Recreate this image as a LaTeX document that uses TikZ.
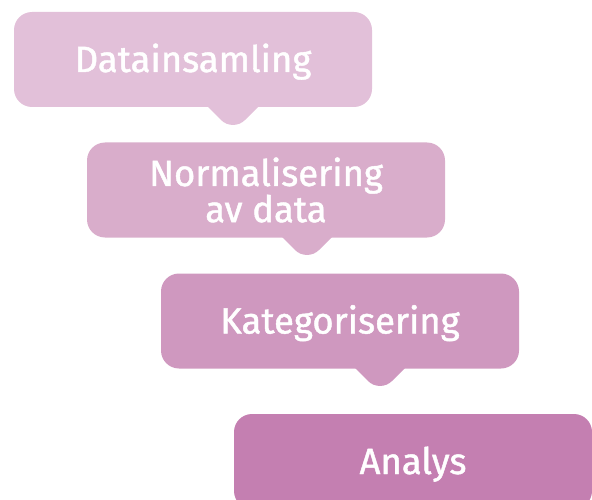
\documentclass[tikz,border=0pt]{standalone}
\usepackage{fontspec}
\setsansfont{Fira Sans}
\newfontfamily\bubblefont{Fira Sans}[RawFeature={embolden=1.2}]
\renewcommand{\familydefault}{\sfdefault}
\definecolor{stepA}{HTML}{E2C0D9}
\definecolor{stepB}{HTML}{D9ADCB}
\definecolor{stepC}{HTML}{CF98BF}
\definecolor{stepD}{HTML}{C47FB1}
\begin{document}
\begin{tikzpicture}[x=1pt,y=-1pt]
					\useasboundingbox (0,0) rectangle (592,500);
					\tikzstyle{bubble}=[rounded corners=18pt, minimum width=358pt, minimum height=95pt, inner sep=0pt, text=white, font=\bubblefont\fontsize{36.5}{34}\selectfont, align=center]
					\tikzstyle{oneline}=[text height=25pt, text depth=0pt]
					\fill[stepA,rounded corners=17pt] (183,82) -- (233,132) -- (283,82) -- cycle;
					\fill[stepB,rounded corners=17pt] (257,212) -- (307,262) -- (357,212) -- cycle;
					\fill[stepC,rounded corners=17pt] (330,343) -- (380,393) -- (430,343) -- cycle;
					\path (193,59.5) node[bubble,oneline,fill=stepA] (v0) {Datainsamling};
					\path (266,190) node[bubble,fill=stepB] (v1) {Normalisering\\av data};
					\path (340,321) node[bubble,oneline,fill=stepC] (v2) {Kategorisering};
					\path (413,461.5) node[bubble,oneline,fill=stepD] (v3) {Analys};
\end{tikzpicture}
\end{document}
